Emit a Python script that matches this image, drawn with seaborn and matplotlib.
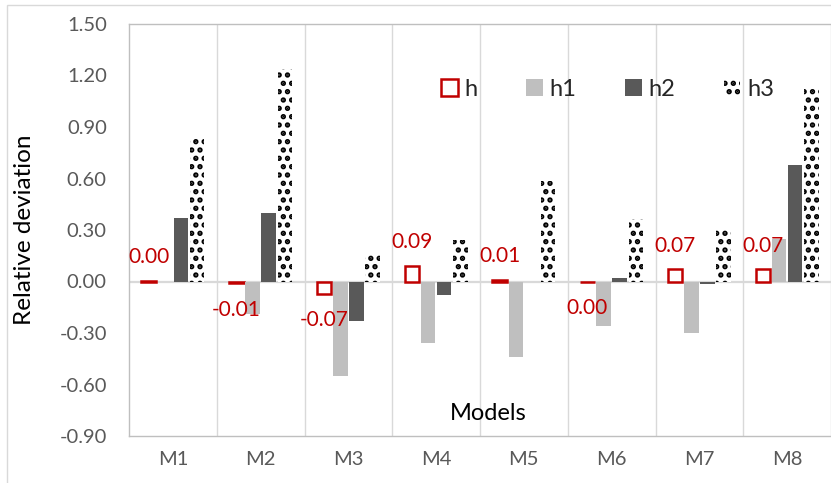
import matplotlib
matplotlib.use("Agg")
import matplotlib.pyplot as plt
import seaborn as sns
import pandas as pd
from matplotlib.patches import Rectangle

# values
models = ['M1', 'M2', 'M3', 'M4', 'M5', 'M6', 'M7', 'M8']
h = [0.003, -0.01, -0.07, 0.09, 0.01, -0.003, 0.07, 0.07]
h1 = [0.0, -0.19, -0.55, -0.36, -0.44, -0.26, -0.30, 0.25]
h2 = [0.37, 0.40, -0.23, -0.08, 0.0, 0.02, -0.016, 0.68]
h3 = [0.83, 1.235, 0.165, 0.24, 0.585, 0.365, 0.30, 1.14]
series = ['h', 'h1', 'h2', 'h3']
yticks = [-0.9, -0.6, -0.3, 0.0, 0.3, 0.6, 0.9, 1.2, 1.5]

df = pd.DataFrame({
    'model': models * 4,
    'series': sum([[s] * len(models) for s in series], []),
    'value': h + h1 + h2 + h3,
})

sns.set_style('white')
plt.rcParams['font.family'] = ['Lato', 'DejaVu Sans']
plt.rcParams['hatch.linewidth'] = 2.6

W, H = 831, 483
fig = plt.figure(figsize=(W / 100, H / 100), dpi=100)
# chart area border (Excel style)
fig.patches.append(Rectangle((7 / W, -0.1), 1.2, 1 - 5 / H + 0.1, transform=fig.transFigure,
                             fill=False, edgecolor='#D9D9D9', lw=1))
ax = fig.add_axes([129 / W, 1 - 436 / H, (W - 129) / W, (436 - 24) / H])

palette = {'h': 'white', 'h1': '#BFBFBF', 'h2': '#595959', 'h3': 'white'}
sns.barplot(data=df, x='model', y='value', hue='series', palette=palette,
            width=0.735, gap=0.1, errorbar=None, ax=ax, legend=False, zorder=3)

for s, cont in zip(series, ax.containers):
    for p in cont.patches:
        if s == 'h':
            p.set_edgecolor('#C00000')
            p.set_linewidth(1.8)
        elif s == 'h3':
            p.set_hatch('..')
            p.set_edgecolor('black')
            p.set_linewidth(0)
        else:
            p.set_linewidth(0)

# data labels for h
for p, v in zip(ax.containers[0].patches, h):
    x = p.get_x() + p.get_width() / 2
    txt = f'{v:.2f}'.replace('-0.00', '0.00')
    off = 17 if v >= 0 else -19
    ax.annotate(txt, (x, v), xytext=(0, off), textcoords='offset points',
                ha='center', va='center', color='#C00000', fontsize=15, zorder=5)

ax.set_xlim(-0.5, -0.5 + (W - 129) / 88.6)
ax.set_ylim(-0.9, 1.5)
ax.set_yticks(yticks)
ax.set_yticklabels([f'{t:.2f}' for t in yticks])
ax.tick_params(axis='both', length=0, labelsize=14.5, labelcolor='#595959')
ax.tick_params(axis='y', pad=16)
ax.tick_params(axis='x', pad=11)

ax.set_xticks([i + 0.5 for i in range(len(models))], minor=True)
ax.grid(which='minor', axis='x', color='#D9D9D9', lw=1, zorder=0)
ax.axhline(0, color='#D9D9D9', lw=1.6, zorder=2)

for side in ['left', 'bottom', 'top']:
    ax.spines[side].set_color('#BFBFBF')
    ax.spines[side].set_linewidth(1)
ax.spines['right'].set_visible(False)

ax.set_xlabel('')
ax.set_ylabel('Relative deviation', fontsize=17.5, color='black')
ax.yaxis.set_label_coords(-(129 - 35) / (W - 129), 0.5)
ax.text(488 / W, 1 - 413 / H, 'Models', transform=fig.transFigure, fontsize=17,
        ha='center', va='center', color='black')

ax.legend(handles=ax.containers, labels=series, ncol=4, frameon=False,
          loc='center left', bbox_to_anchor=(441 / W, 1 - 89 / H),
          bbox_transform=fig.transFigure, fontsize=17, handlelength=0.7,
          handleheight=0.7, handletextpad=0.3, columnspacing=2.05, borderpad=0,
          borderaxespad=0)

fig.savefig('out.png', dpi=100)
